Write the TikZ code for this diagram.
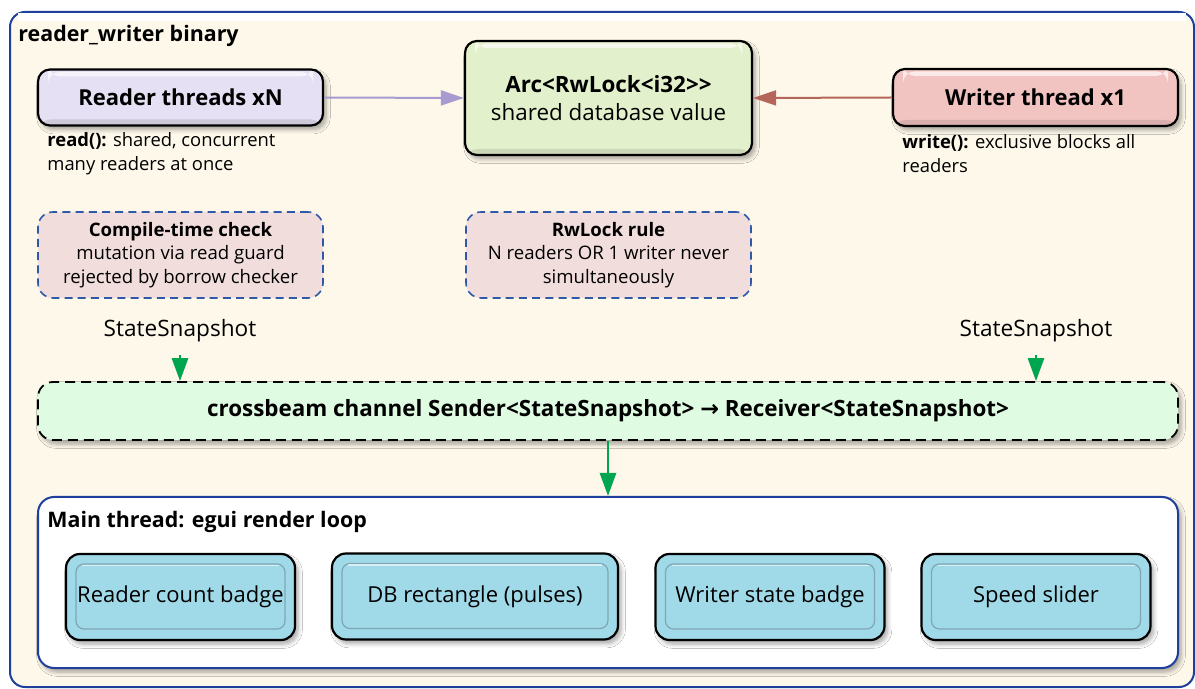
\documentclass[tikz,border=0pt]{standalone}
\usepackage{fontspec}
\setmainfont{Open Sans}
\newfontfamily\arrowfont{DejaVu Sans}
\usetikzlibrary{arrows.meta,shadows.blur}

\definecolor{cream}{HTML}{FDF8EA}
\definecolor{frameblue}{HTML}{1F3F9C}
\definecolor{dashblue}{HTML}{2F59A8}
\definecolor{readerfill}{HTML}{E5E0F3}
\definecolor{arcfill}{HTML}{E3F0CC}
\definecolor{writerfill}{HTML}{F1C3C1}
\definecolor{notefill}{HTML}{F1DEDC}
\definecolor{chanfill}{HTML}{DFFBE2}
\definecolor{widgetfill}{HTML}{A0DAE8}
\definecolor{widgetinner}{HTML}{7FA6B4}
\definecolor{readline}{HTML}{A79BCF}
\definecolor{writeline}{HTML}{B5665B}
\definecolor{flowgreen}{HTML}{00A550}

\tikzset{
  softshadow/.style={blur shadow={shadow xshift=1.5pt, shadow yshift=-2pt,
      shadow blur steps=6, shadow opacity=35}},
  bevel/.style={path picture={
      \fill[white, opacity=0.65]
        ([xshift=5pt, yshift=-1.2pt]path picture bounding box.north west)
        rectangle ([xshift=-5pt, yshift=-3.5pt]path picture bounding box.north east);
      \fill[black, opacity=0.10]
        ([yshift=3pt]path picture bounding box.south west)
        rectangle (path picture bounding box.south east);}},
  threadbox/.style={draw=black, line width=1.1pt, rounded corners=6pt,
      minimum width=142.5pt, inner sep=0pt, align=center, softshadow, bevel},
  notebox/.style={draw=dashblue, fill=notefill, line width=0.8pt,
      dash pattern=on 4pt off 2.6pt, rounded corners=7.5pt,
      minimum width=142.5pt, minimum height=43pt, inner sep=0pt, align=center,
      font=\fontsize{9.3}{11.8}\selectfont},
  notetext/.style={anchor=west, align=left, inner sep=0pt,
      font=\fontsize{9.2}{12}\selectfont},
  widget/.style={draw=black, fill=widgetfill, line width=1.1pt,
      rounded corners=7pt, minimum width=114.5pt, minimum height=43pt,
      inner sep=0pt, font=\fontsize{11}{12}\selectfont, softshadow,
      path picture={
        \draw[widgetinner, line width=0.6pt, rounded corners=4pt]
          ([shift={(5pt,5.5pt)}]path picture bounding box.south west)
          rectangle ([shift={(-5pt,-5pt)}]path picture bounding box.north east);
        \draw[white, opacity=0.6, line width=0.6pt]
          ([shift={(8pt,-5.8pt)}]path picture bounding box.north west)
          -- ([shift={(-8pt,-5.8pt)}]path picture bounding box.north east);}},
  snaplabel/.style={inner sep=0pt, font=\fontsize{11.3}{12}\selectfont},
  readarrow/.style={draw=readline, line width=1pt,
      -{Triangle[length=11.5pt, width=7.5pt, fill=readline]}},
  writearrow/.style={draw=writeline, line width=1pt,
      -{Triangle[length=11.5pt, width=7.5pt, fill=writeline]}},
  flowarrow/.style={draw=flowgreen, line width=1.4pt,
      -{Triangle[length=11.5pt, width=8pt, fill=flowgreen]}}
}

\begin{document}
\begin{tikzpicture}[x=0.5pt, y=-0.5pt]
\useasboundingbox (0,0) rectangle (1195,689);

% outer binary frame
\draw[frameblue, line width=1pt, fill=cream, rounded corners=7.5pt]
  (10,12) rectangle (1194,687);
\fill[white] (18,12.8) rectangle (1186,21);
\node[anchor=base west, inner sep=0pt, font=\bfseries\fontsize{10.7}{12}\selectfont]
  (bintitle) at (18,42) {reader\_writer binary};

% threads and shared value
\node[threadbox, fill=readerfill, minimum height=28pt,
      font=\bfseries\fontsize{11}{12}\selectfont] (reader) at (180.5,97.5)
  {Reader threads xN};
\node[threadbox, fill=arcfill, minimum height=57pt, minimum width=143.5pt,
      font=\fontsize{11.2}{14}\selectfont] (arc) at (608.5,98)
  {\textbf{Arc<RwLock<i32>{}>}\\shared database value};
\node[threadbox, fill=writerfill, minimum height=28.5pt,
      font=\bfseries\fontsize{11}{12}\selectfont] (writer) at (1035.5,97.5)
  {Writer thread x1};

\draw[readarrow] (reader.east) -- (arc.west);
\draw[writearrow] (writer.west) -- (arc.east);

\node[notetext] (readnote) at (47,154)
  {\textbf{read():} shared, concurrent\\many readers at once};
\node[notetext] (writenote) at (902,154)
  {\textbf{write():} exclusive blocks all\\readers};

% rule notes
\node[notebox] (compile) at (180.5,255)
  {\textbf{Compile-time check}\\mutation via read guard\\rejected by borrow checker};
\node[notebox] (rule) at (608.5,255)
  {\textbf{RwLock rule}\\N readers OR 1 writer never\\simultaneously};

% channel
\node[snaplabel] (snapL) at (180,331) {StateSnapshot};
\node[snaplabel] (snapR) at (1036,331) {StateSnapshot};
\node[draw=black, fill=chanfill, line width=0.9pt, dash pattern=on 5pt off 3pt,
      rounded corners=7.5pt, minimum width=570pt, minimum height=29pt,
      inner sep=0pt, font=\bfseries\fontsize{11.2}{12}\selectfont, softshadow]
  (chan) at (608,411)
  {crossbeam channel Sender<StateSnapshot> {\arrowfont\bfseries →} Receiver<StateSnapshot>};
\draw[flowarrow] ([yshift=-6pt]snapL.south) -- (snapL.south |- chan.north);
\draw[flowarrow] ([yshift=-6pt]snapR.south) -- (snapR.south |- chan.north);

% main thread render loop
\node[draw=frameblue, fill=white, line width=1pt, rounded corners=8pt,
      minimum width=570pt, minimum height=85.5pt, inner sep=0pt, softshadow]
  (main) at (608,582.5) {};
\draw[flowarrow] (chan.south) -- (chan.south |- main.north);
\node[anchor=base west, inner sep=0pt, font=\bfseries\fontsize{10.7}{12}\selectfont]
  (maintitle) at (47,528) {Main thread: egui render loop};

\node[widget] (wreader) at (180.5,597) {Reader count badge};
\node[widget, minimum width=143pt] (wdb) at (475,596.5) {DB rectangle (pulses)};
\node[widget] (wwriter) at (770,597) {Writer state badge};
\node[widget] (wspeed) at (1036,597) {Speed slider};

\end{tikzpicture}
\end{document}
